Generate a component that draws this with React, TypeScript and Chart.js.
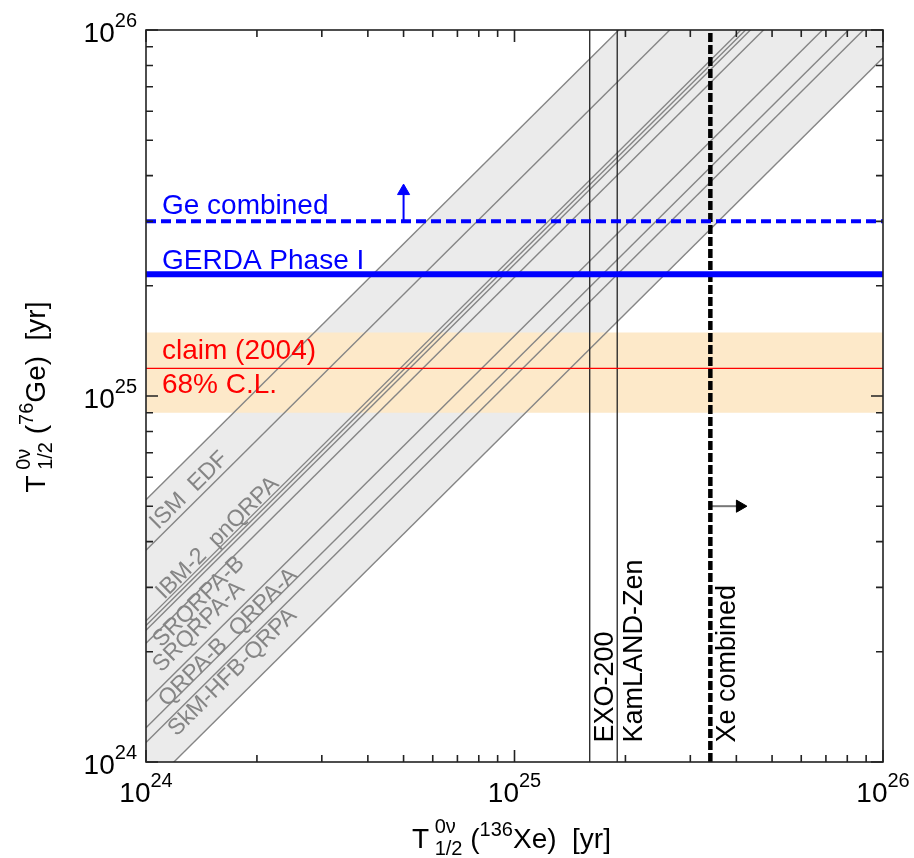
import React, { useEffect, useRef } from 'react';
import { Chart, registerables } from 'chart.js';
Chart.register(...registerables);

// ---- axis ranges and ticks ----
const X_MIN = 1e24;
const X_MAX = 1e26;
const Y_MIN = 1e24;
const Y_MAX = 1e26;
const decades = [1e24, 1e25, 1e26];
const decadeExponents = ['24', '25', '26'];
const minorMultipliers = [2, 3, 4, 5, 6, 7, 8, 9];

// ---- NME model predictions: T(76Ge) = ratio * T(136Xe) ----
const nmeRatios = [5.21, 3.79, 2.43, 2.36, 2.29, 2.11, 1.46, 1.24, 1.13, 0.84];
const nmeLabels = ['ISM  EDF', 'IBM-2  pnQRPA', 'SRQRPA-B', 'SRQRPA-A', 'QRPA-B  QRPA-A', 'SkM-HFB-QRPA'];
const nmeLabelX = [1.08e24, 1.12e24, 1.1e24, 1.1e24, 1.14e24, 1.21e24];
const nmeLabelY = [4.3e24, 2.77e24, 2.05e24, 1.75e24, 1.41e24, 1.17e24];

// ---- experimental limits ----
const claimValue = 1.19e25;
const claimLow = 0.9e25;
const claimHigh = 1.49e25;
const gerdaLimit = 2.15e25;
const geCombinedLimit = 3.0e25;
const exoLimit = 1.6e25;
const kamlandLimit = 1.9e25;
const xeCombinedLimit = 3.4e25;
const geArrowX = 5e24;
const geArrowTip = 3.63e25;
const xeArrowY = 5e24;
const xeArrowTip = 4.09e25;

// ---- text annotations ----
const hLabels = ['Ge combined', 'GERDA Phase I', 'claim (2004)', '68% C.L.'];
const hLabelColors = ['#0000ff', '#0000ff', '#ff0000', '#ff0000'];
const hLabelY = [3.14e25, 2.22e25, 1.26e25, 1.02e25];
const hLabelX = 1.105e24;
const vLabels = ['EXO-200', 'KamLAND-Zen', 'Xe combined'];
const vLabelX = [1.85e25, 2.22e25, 3.96e25];
const vLabelY = 1.13e24;

const FAMILY = '"Liberation Sans", Arial, Helvetica, sans-serif';

type Seg = { t: string; size: number; dy: number; stack?: boolean };

function richWidth(ctx: CanvasRenderingContext2D, segs: Seg[]) {
  let w = 0;
  let pending = 0;
  for (const s of segs) {
    ctx.font = `${s.size}px ${FAMILY}`;
    const sw = ctx.measureText(s.t).width;
    if (s.stack) {
      pending = sw;
      continue;
    }
    w += Math.max(sw, pending);
    pending = 0;
  }
  return w;
}

function drawRich(ctx: CanvasRenderingContext2D, segs: Seg[], x: number, y: number, align: string) {
  const total = richWidth(ctx, segs);
  let cx = align === 'center' ? x - total / 2 : align === 'right' ? x - total : x;
  let pending = 0;
  ctx.textAlign = 'left';
  ctx.textBaseline = 'alphabetic';
  for (const s of segs) {
    ctx.font = `${s.size}px ${FAMILY}`;
    const sw = ctx.measureText(s.t).width;
    ctx.fillText(s.t, cx, y + s.dy);
    if (s.stack) {
      pending = sw;
      continue;
    }
    cx += Math.max(sw, pending);
    pending = 0;
  }
}

const xTitle: Seg[] = [
  { t: 'T', size: 28, dy: 0 },
  { t: ' 0ν', size: 20, dy: -15, stack: true },
  { t: ' 1/2', size: 20, dy: 7 },
  { t: ' (', size: 28, dy: 0 },
  { t: '136', size: 20, dy: -12 },
  { t: 'Xe)', size: 28, dy: 0 },
  { t: '  [yr]', size: 28, dy: 0 },
];
const yTitle: Seg[] = [
  { t: 'T', size: 28, dy: 0 },
  { t: ' 0ν', size: 20, dy: -15, stack: true },
  { t: ' 1/2', size: 20, dy: 7 },
  { t: ' (', size: 28, dy: 0 },
  { t: '76', size: 20, dy: -12 },
  { t: 'Ge)', size: 28, dy: 0 },
  { t: '  [yr]', size: 28, dy: 0 },
];

const decorPlugin = {
  id: 'decor',
  afterDraw(chart: any) {
    const { ctx, chartArea: a, scales } = chart;
    const xs = scales.x;
    const ys = scales.y;
    ctx.save();

    // annotations: horizontal texts
    ctx.textAlign = 'left';
    ctx.textBaseline = 'alphabetic';
    ctx.font = `28px ${FAMILY}`;
    hLabels.forEach((t, i) => {
      ctx.fillStyle = hLabelColors[i];
      ctx.fillText(t, xs.getPixelForValue(hLabelX), ys.getPixelForValue(hLabelY[i]));
    });
    // vertical texts
    ctx.fillStyle = '#000';
    ctx.font = `27px ${FAMILY}`;
    vLabels.forEach((t, i) => {
      ctx.save();
      ctx.translate(xs.getPixelForValue(vLabelX[i]), ys.getPixelForValue(vLabelY));
      ctx.rotate(-Math.PI / 2);
      ctx.fillText(t, 0, 0);
      ctx.restore();
    });
    // diagonal NME labels
    const ang = Math.atan2(
      ys.getPixelForValue(1e25) - ys.getPixelForValue(1e24),
      xs.getPixelForValue(1e25) - xs.getPixelForValue(1e24)
    );
    ctx.fillStyle = '#858585';
    ctx.font = `23px ${FAMILY}`;
    nmeLabels.forEach((t, i) => {
      ctx.save();
      ctx.translate(xs.getPixelForValue(nmeLabelX[i]), ys.getPixelForValue(nmeLabelY[i]));
      ctx.rotate(ang);
      ctx.fillText(t, 0, 0);
      ctx.restore();
    });

    // frame
    ctx.strokeStyle = '#222';
    ctx.lineWidth = 1.6;
    ctx.strokeRect(a.left, a.top, a.right - a.left, a.bottom - a.top);

    // ticks (inside)
    const tickVals: { v: number; major: boolean }[] = [];
    decades.forEach((d, i) => {
      tickVals.push({ v: d, major: true });
      if (i < decades.length - 1) minorMultipliers.forEach((m) => tickVals.push({ v: d * m, major: false }));
    });
    ctx.beginPath();
    tickVals.forEach(({ v, major }) => {
      const len = major ? 12 : 7;
      const px = xs.getPixelForValue(v);
      ctx.moveTo(px, a.bottom);
      ctx.lineTo(px, a.bottom - len);
      ctx.moveTo(px, a.top);
      ctx.lineTo(px, a.top + len);
      const py = ys.getPixelForValue(v);
      ctx.moveTo(a.left, py);
      ctx.lineTo(a.left + len, py);
      ctx.moveTo(a.right, py);
      ctx.lineTo(a.right - len, py);
    });
    ctx.stroke();

    // tick labels
    ctx.fillStyle = '#000';
    decades.forEach((d, i) => {
      const segs: Seg[] = [
        { t: '10', size: 28, dy: 0 },
        { t: decadeExponents[i], size: 20, dy: -15 },
      ];
      drawRich(ctx, segs, xs.getPixelForValue(d), a.bottom + 40, 'center');
      drawRich(ctx, segs, a.left - 9, ys.getPixelForValue(d) + 12, 'right');
    });

    // axis titles
    drawRich(ctx, xTitle, (a.left + a.right) / 2 - 3, a.bottom + 86, 'center');
    ctx.save();
    ctx.translate(a.left - 101, (a.top + a.bottom) / 2 + 1);
    ctx.rotate(-Math.PI / 2);
    drawRich(ctx, yTitle, 0, 0, 'center');
    ctx.restore();

    ctx.restore();
  },
};

const seg = (x1: number, y1: number, x2: number, y2: number) => [
  { x: x1, y: y1 },
  { x: x2, y: y2 },
];

function buildDatasets() {
  const ds: any[] = [];
  const base = { showLine: true, pointRadius: 0, clip: 0, fill: false };
  // 0,1: claim band
  ds.push({ ...base, data: seg(X_MIN, claimHigh, X_MAX, claimHigh), borderWidth: 0, borderColor: 'transparent', fill: '+1', backgroundColor: '#fde9c9', order: 1 });
  ds.push({ ...base, data: seg(X_MIN, claimLow, X_MAX, claimLow), borderWidth: 0, borderColor: 'transparent', order: 1 });
  // diagonal NME lines
  const first = ds.length;
  const last = first + nmeRatios.length - 1;
  nmeRatios.forEach((r, i) => {
    ds.push({
      ...base,
      data: seg(X_MIN, X_MIN * r, X_MAX, X_MAX * r),
      borderColor: '#858585',
      borderWidth: 1.4,
      fill: i === 0 ? { target: last } : false,
      backgroundColor: '#ebebeb',
      order: 2,
    });
  });
  // claim central line
  ds.push({ ...base, data: seg(X_MIN, claimValue, X_MAX, claimValue), borderColor: '#ff0000', borderWidth: 1.2, order: 0 });
  // GERDA Phase I
  ds.push({ ...base, data: seg(X_MIN, gerdaLimit, X_MAX, gerdaLimit), borderColor: '#0000ff', borderWidth: 6, order: 0 });
  // Ge combined
  ds.push({ ...base, data: seg(X_MIN, geCombinedLimit, X_MAX, geCombinedLimit), borderColor: '#0000ff', borderWidth: 4, borderDash: [10, 5], order: 0 });
  // EXO-200, KamLAND-Zen
  ds.push({ ...base, data: seg(exoLimit, Y_MIN, exoLimit, Y_MAX), borderColor: '#222', borderWidth: 1.3, order: 0 });
  ds.push({ ...base, data: seg(kamlandLimit, Y_MIN, kamlandLimit, Y_MAX), borderColor: '#222', borderWidth: 1.3, order: 0 });
  // Xe combined
  ds.push({ ...base, data: seg(xeCombinedLimit, Y_MIN, xeCombinedLimit, Y_MAX), borderColor: '#000', borderWidth: 4.5, borderDash: [9, 3], order: 0 });
  // arrows
  ds.push({
    ...base,
    data: seg(geArrowX, geCombinedLimit, geArrowX, geArrowTip),
    borderColor: '#0000ff',
    borderWidth: 2,
    pointRadius: [0, 7],
    pointStyle: 'triangle',
    pointBackgroundColor: '#0000ff',
    pointBorderColor: '#0000ff',
    pointBorderWidth: 1,
    order: 0,
  });
  ds.push({
    ...base,
    data: seg(xeCombinedLimit, xeArrowY, xeArrowTip, xeArrowY),
    borderColor: '#777',
    borderWidth: 2,
    pointRadius: [0, 7],
    pointStyle: 'triangle',
    rotation: 90,
    pointBackgroundColor: '#000',
    pointBorderColor: '#000',
    pointBorderWidth: 1,
    order: 0,
  });
  return ds;
}

export default function App() {
  const ref = useRef<HTMLCanvasElement>(null);
  useEffect(() => {
    const chart = new Chart(ref.current as HTMLCanvasElement, {
      type: 'scatter',
      data: { datasets: buildDatasets() },
      options: {
        responsive: false,
        animation: false,
        events: [],
        layout: { padding: { left: 146, top: 30, right: 31, bottom: 96 } },
        scales: {
          x: { type: 'logarithmic', min: X_MIN, max: X_MAX, display: false },
          y: { type: 'logarithmic', min: Y_MIN, max: Y_MAX, display: false },
        },
        plugins: {
          legend: { display: false },
          tooltip: { enabled: false },
          filler: { drawTime: 'beforeDatasetsDraw', propagate: false },
        },
      } as any,
      plugins: [decorPlugin],
    });
    return () => chart.destroy();
  }, []);
  return (
    <div style={{ position: 'absolute', left: 0, top: 0, width: 914, height: 858, overflow: 'hidden' }}>
      <canvas ref={ref} width={914} height={858} style={{ display: 'block' }} />
    </div>
  );
}
